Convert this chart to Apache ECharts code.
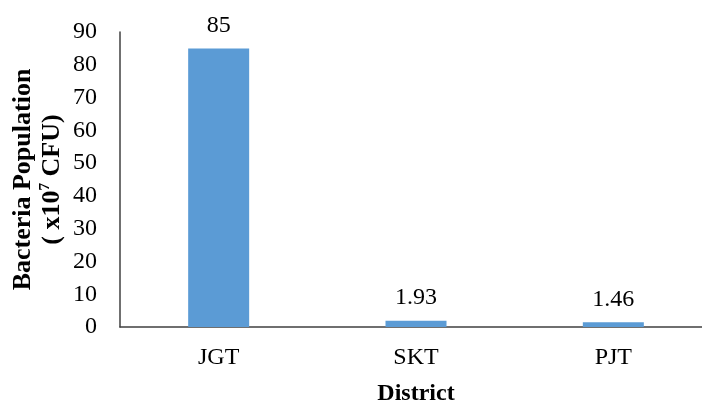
<!DOCTYPE html>
<html><head><meta charset="utf-8">
<script src="https://cdn.jsdelivr.net/npm/echarts@6/dist/echarts.min.js"></script>
<style>html,body{margin:0;padding:0;background:#fff}#c{width:702px;height:403px}</style>
</head><body><div id="c"></div>
<script>
const categories = ['JGT', 'SKT', 'PJT'];
const values = [85, 1.93, 1.46];
const valueLabels = ['85', '1.93', '1.46'];
const yTicks = [0, 90, 10];

const font = 'Liberation Serif';
const chart = echarts.init(document.getElementById('c'));
chart.setOption({
  animation: false,
  backgroundColor: '#fff',
  grid: { left: 120, top: 32, right: -10, bottom: 76, containLabel: false, outerBoundsMode: 'none' },
  xAxis: {
    type: 'category', data: categories,
    axisLine: { lineStyle: { color: '#404040', width: 1.5 } },
    axisTick: { show: false },
    axisLabel: { fontFamily: font, fontSize: 24, color: '#000', margin: 19 },
    name: 'District', nameLocation: 'middle', nameGap: 55,
    nameTextStyle: { fontFamily: font, fontSize: 24, fontWeight: 'bold', color: '#000' }
  },
  yAxis: {
    type: 'value', min: yTicks[0], max: yTicks[1], interval: yTicks[2],
    axisLine: { show: true, lineStyle: { color: '#404040', width: 1.5 } },
    axisTick: { show: false },
    splitLine: { show: false },
    axisLabel: { fontFamily: font, fontSize: 24, color: '#000', margin: 23 },
    name: '{b|Bacteria Population}\n{b|( x10}{s|7}{b| CFU)}',
    nameLocation: 'middle', nameGap: 53, nameRotate: 90, nameMoveOverlap: false,
    nameTextStyle: {
      rich: {
        b: { fontFamily: font, fontSize: 26, fontWeight: 'bold', color: '#000', lineHeight: 29 },
        s: { fontFamily: font, fontSize: 15, fontWeight: 'bold', color: '#000', lineHeight: 29, verticalAlign: 'top', padding: [0, 0, 10, 0] }
      }
    }
  },
  series: [{
    type: 'bar', data: values, barWidth: 61,
    itemStyle: { color: '#5B9BD5' },
    label: {
      show: true, position: 'top', distance: 11,
      fontFamily: font, fontSize: 24, color: '#000',
      formatter: p => valueLabels[p.dataIndex]
    }
  }]
});
</script></body></html>
